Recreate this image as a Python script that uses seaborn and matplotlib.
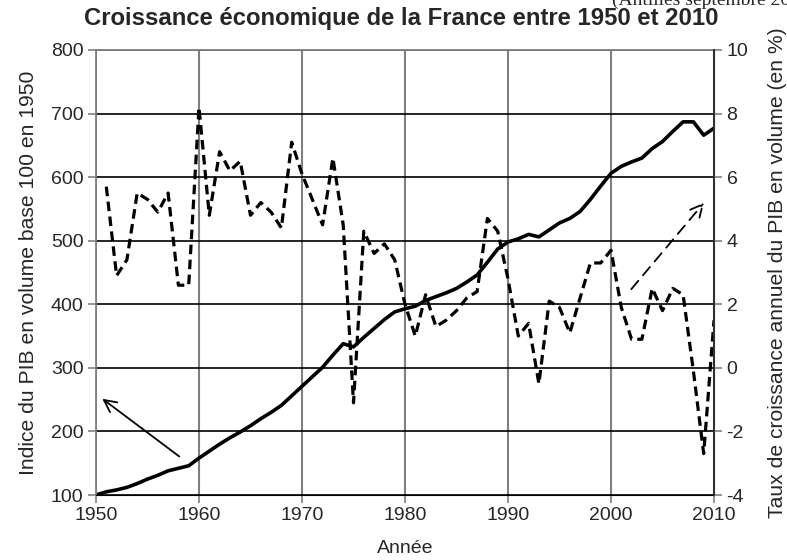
import numpy as np
import pandas as pd
import matplotlib.pyplot as plt
import seaborn as sns

# données
annees = list(range(1950, 2011))
indice_pib = [100, 105, 108, 112, 118, 125, 131, 138, 142, 146,
              158, 169, 180, 190, 199, 209, 220, 230, 241, 256,
              271, 286, 301, 320, 338, 333, 348, 362, 376, 388,
              393, 397, 406, 412, 418, 425, 435, 446, 466, 487,
              498, 503, 510, 506, 517, 528, 535, 546, 565, 586,
              606, 617, 624, 630, 645, 656, 672, 687, 687, 666,
              677]
croissance = [np.nan, 5.7, 2.9, 3.4, 5.5, 5.3, 4.9, 5.5, 2.6, 2.6,
              8.2, 4.8, 6.8, 6.2, 6.5, 4.8, 5.2, 4.9, 4.4, 7.1,
              6.1, 5.3, 4.5, 6.6, 4.5, -1.1, 4.3, 3.6, 3.9, 3.4,
              2.0, 1.0, 2.3, 1.3, 1.5, 1.8, 2.2, 2.4, 4.7, 4.3,
              2.8, 1.0, 1.4, -0.5, 2.1, 1.9, 1.1, 2.2, 3.3, 3.3,
              3.7, 1.9, 0.9, 0.9, 2.5, 1.8, 2.5, 2.3, -0.1, -2.7,
              1.5]
ticks_x = [1950, 1960, 1970, 1980, 1990, 2000, 2010]
ticks_gauche = [100, 200, 300, 400, 500, 600, 700, 800]
ticks_droite = [-4, -2, 0, 2, 4, 6, 8, 10]

sns.set_style('white')
plt.rcParams['font.family'] = ['Liberation Sans', 'DejaVu Sans']
plt.rcParams['axes.unicode_minus'] = False

df = pd.DataFrame({'Année': annees, 'Indice': indice_pib, 'Croissance': croissance})

fig, ax = plt.subplots(figsize=(7.87, 5.6), dpi=100)
fig.subplots_adjust(left=96/787, right=714/787, bottom=1-495/560, top=1-50/560)

#courbe pleine : indice du PIB
sns.lineplot(data=df, x='Année', y='Indice', ax=ax, color='black', lw=2.6)
ax.set_xlim(1950, 2010)
ax.set_ylim(100, 800)
ax.set_xticks(ticks_x)
ax.set_yticks(ticks_gauche)
ax.set_axisbelow(True)
ax.grid(axis='y', color='black', lw=1.2)
ax.grid(axis='x', color='#808080', lw=1.5)
ax.tick_params(axis='both', direction='out', length=6, width=1.2, color='#808080',
               labelsize=14, pad=3, left=True, bottom=True)
ax.set_xlabel('Année', fontsize=14, labelpad=11)
ax.set_ylabel('Indice du PIB en volume base 100 en 1950', fontsize=15.2, labelpad=9)
for s in ['left', 'top']:
    ax.spines[s].set_color('#808080')
    ax.spines[s].set_linewidth(1.3)
ax.spines['bottom'].set_color('black')

#courbe pointillée : taux de croissance (axe de droite)
ax2 = ax.twinx()
sns.lineplot(data=df, x='Année', y='Croissance', ax=ax2, color='black', lw=2.3,
             linestyle=(0, (3, 1.7)))
ax2.set_ylim(-4, 10)
ax2.set_yticks(ticks_droite)
ax2.tick_params(axis='y', direction='out', length=6, width=1.2, color='#808080',
                labelsize=14, pad=3, right=True)
ax2.set_ylabel('Taux de croissance annuel du PIB en volume (en %)', fontsize=15.2, labelpad=14)
ax2.spines['right'].set_color('#303030')
ax2.spines['right'].set_linewidth(1.4)
for s in ['left', 'top', 'bottom']:
    ax2.spines[s].set_visible(False)

#flèches vers les axes
ax.annotate('', xy=(1950.4, 254), xytext=(1958.3, 158),
            arrowprops=dict(arrowstyle='->', color='black', lw=1.3, mutation_scale=22))
ax2.annotate('', xy=(2009.2, 5.26), xytext=(2001.8, 2.41),
             arrowprops=dict(arrowstyle='->', color='black', lw=1.3, linestyle=(0, (6, 4)),
                             mutation_scale=22))

fig.text(0.51, 1-19/560, 'Croissance économique de la France entre 1950 et 2010',
         ha='center', va='center', fontsize=17.2, fontweight='bold')
fig.text(612/787, 1-5/560, '(Antilles septembre 20', family=['Liberation Serif'],
         fontsize=14, va='baseline', ha='left')

plt.savefig('out.png', dpi=100)
